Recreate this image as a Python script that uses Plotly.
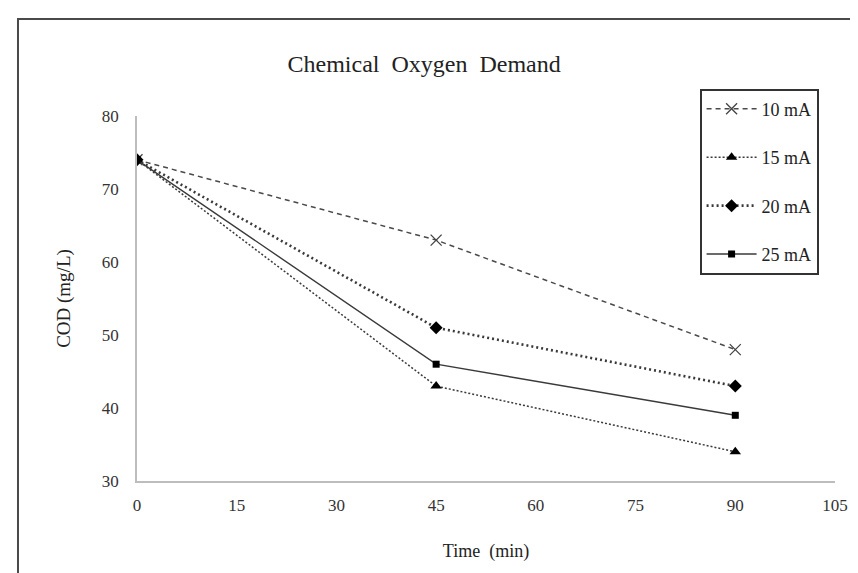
import plotly.graph_objects as go

time_min = [0, 45, 90]
cod_10mA = [74, 63, 48]
cod_15mA = [74, 43, 34]
cod_20mA = [74, 51, 43]
cod_25mA = [74, 46, 39]
series_names = ["10 mA", "15 mA", "20 mA", "25 mA"]
x_ticks = [0, 15, 30, 45, 60, 75, 90, 105]
y_ticks = [30, 40, 50, 60, 70, 80]

FONT = "Liberation Serif, Times New Roman, serif"
LINE = "#3a3a3a"

fig = go.Figure()
styles = [
    (cod_10mA, dict(color="#4a4a4a", width=1.5, dash="5px,4px"), dict(symbol="x-thin", size=11, line=dict(color="#444", width=1.3))),
    (cod_15mA, dict(color=LINE, width=1.5, dash="2px,2px"), dict(symbol="triangle-up", size=10, color="#000")),
    (cod_20mA, dict(color=LINE, width=2.6, dash="2px,3px"), dict(symbol="diamond", size=10, color="#000")),
    (cod_25mA, dict(color=LINE, width=1.4), dict(symbol="square", size=7, color="#000")),
]
for name, (vals, line, marker) in zip(series_names, styles):
    fig.add_trace(go.Scatter(
        x=time_min, y=vals, name=name, mode="lines+markers",
        line=line, marker=marker, legendgroup=name,
    ))

fig.update_layout(
    width=858, height=573,
    margin=dict(l=129, r=31, t=108, b=100),
    paper_bgcolor="white", plot_bgcolor="white",
    font=dict(family=FONT, color="#222", size=17),
    title=dict(text="Chemical  Oxygen  Demand", x=0.485, xanchor="center",
               y=0.903, yanchor="middle", font=dict(size=24, family=FONT, color="#222")),
    showlegend=True,
    legend=dict(
        x=0.806, xanchor="left", y=1.075, yanchor="top",
        bordercolor="#333", borderwidth=2, bgcolor="white",
        font=dict(size=18, family=FONT, color="#222"),
        tracegroupgap=22, itemwidth=50,
    ),
    xaxis=dict(
        range=[0, 105], tickvals=x_ticks, showgrid=False, zeroline=False,
        showline=True, linecolor="#bdbdbd", linewidth=1.5, ticks="",
        ticklabelstandoff=8,
        tickfont=dict(size=17, family=FONT, color="#333"),
        title=dict(text="Time  (min)", standoff=30, font=dict(size=18, family=FONT, color="#222")),
    ),
    yaxis=dict(
        range=[30, 80], tickvals=y_ticks, showgrid=False, zeroline=False,
        showline=True, linecolor="#bdbdbd", linewidth=1.5, ticks="",
        ticklabelstandoff=13,
        tickfont=dict(size=17, family=FONT, color="#333"),
        title=dict(text="COD (mg/L)", standoff=26, font=dict(size=19, family=FONT, color="#222")),
    ),
    shapes=[
        dict(type="rect", xref="paper", yref="paper",
             x0=-0.1705, x1=1.6, y0=-0.6, y1=1.266,
             line=dict(color="#4a4a4a", width=2), fillcolor="rgba(0,0,0,0)", layer="below"),
    ],
)

fig.write_html("out.html")
